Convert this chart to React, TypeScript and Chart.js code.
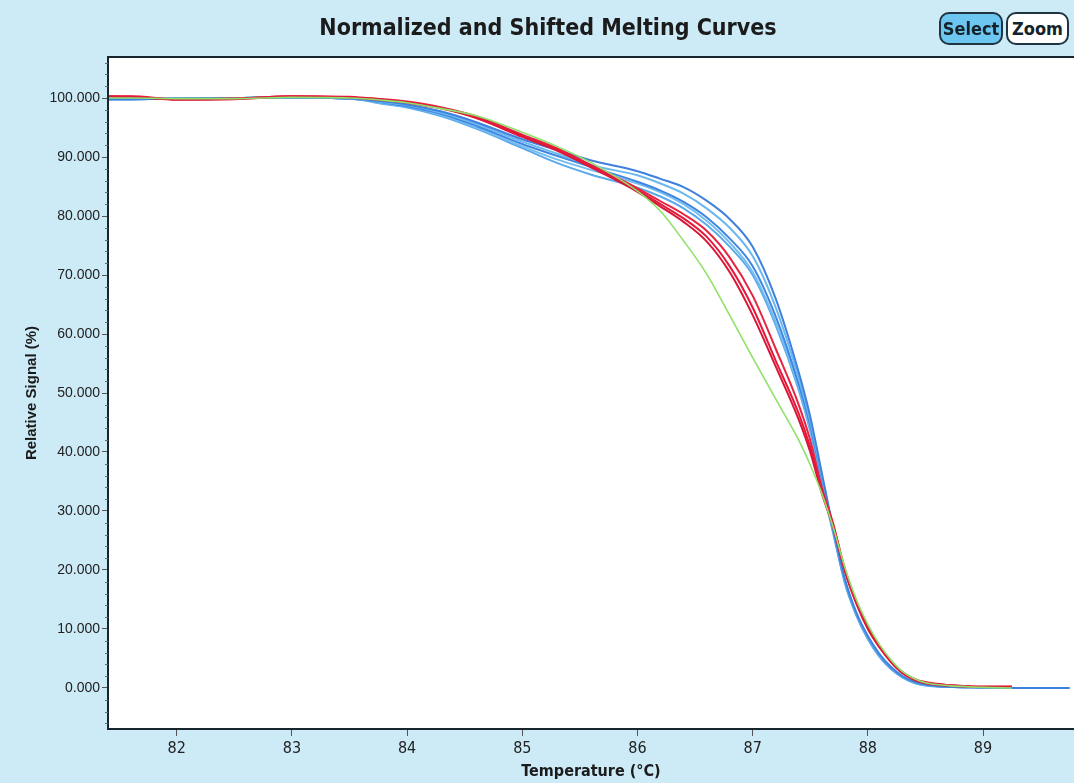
import React, { useEffect, useRef } from "react";
import { Chart, registerables } from "chart.js";

Chart.register(...registerables);

const NARROW = '"Liberation Sans Narrow", "DejaVu Sans Condensed", "Arial Narrow", sans-serif';
const SANS = '"Liberation Sans", Arial, sans-serif';

const chartTitle = "Normalized and Shifted Melting Curves";
const xTitle = "Temperature (°C)";
const yTitle = "Relative Signal (%)";

const temps = [81.4, 81.6, 82.0, 82.5, 83.0, 83.5, 83.8, 84.0, 84.3, 84.6, 85.0, 85.3, 85.6, 86.0, 86.2, 86.4, 86.6, 86.8, 87.0, 87.2, 87.4, 87.5, 87.6, 87.7, 87.8, 87.9, 88.0, 88.1, 88.2, 88.3, 88.4, 88.5, 88.7, 89.0, 89.25, 89.5, 89.75];

const xTicks = [82, 83, 84, 85, 86, 87, 88, 89];
const yTicks = [0, 10, 20, 30, 40, 50, 60, 70, 80, 90, 100];

const green1 = [100.0, 100.0, 99.9, 99.9, 100.1, 100.0, 99.6, 99.2, 98.2, 97.0, 94.2, 91.8, 89.0, 84.2, 80.8, 75.8, 70.2, 63.2, 56.0, 49.0, 42.0, 37.8, 33.0, 27.2, 20.5, 15.0, 10.8, 7.4, 4.8, 2.8, 1.6, 0.9, 0.4, 0.1, 0.0, null, null];

const red1 = [100.3, 100.2, 99.8, 99.9, 100.3, 100.2, 99.7, 99.3, 98.3, 96.7, 93.6, 91.3, 88.4, 84.4, 82.0, 79.6, 76.5, 71.5, 64.5, 55.5, 46.5, 40.8, 33.5, 27.5, 20.0, 14.5, 10.2, 7.0, 4.5, 2.6, 1.5, 0.9, 0.5, 0.2, 0.2, null, null];
const red2 = [100.3, 100.3, 99.8, 99.9, 100.3, 100.1, 99.8, 99.4, 98.4, 96.9, 93.8, 91.5, 88.6, 84.7, 82.5, 80.3, 77.5, 73.0, 66.5, 57.5, 48.0, 42.0, 34.0, 27.8, 20.2, 14.7, 10.4, 7.2, 4.6, 2.7, 1.6, 1.0, 0.5, 0.2, 0.2, null, null];
const red3 = [100.2, 100.2, 99.7, 99.8, 100.2, 100.1, 99.6, 99.2, 98.2, 96.6, 93.4, 91.1, 88.2, 84.1, 81.6, 79.0, 75.7, 70.5, 63.2, 54.5, 45.5, 40.0, 33.0, 27.2, 19.8, 14.3, 10.0, 6.9, 4.4, 2.5, 1.4, 0.8, 0.4, 0.2, 0.2, null, null];

const blue1 = [99.8, 99.8, 99.9, 100.0, 100.1, 99.9, 99.4, 98.9, 97.7, 95.9, 93.0, 91.2, 89.4, 87.6, 86.3, 84.9, 82.6, 79.5, 74.8, 66.0, 53.5, 46.0, 36.5, 27.0, 18.5, 12.8, 8.8, 5.8, 3.6, 2.0, 1.1, 0.6, 0.2, 0.1, 0.0, 0.0, 0.0];
const blue2 = [99.8, 99.8, 99.9, 100.0, 100.1, 99.9, 99.3, 98.8, 97.5, 95.6, 92.6, 90.6, 88.6, 86.9, 85.5, 83.8, 81.3, 78.0, 73.2, 64.5, 52.5, 45.2, 36.0, 26.8, 18.3, 12.6, 8.6, 5.6, 3.5, 1.9, 1.0, 0.5, 0.2, 0.1, 0.0, 0.0, 0.0];
const blue3 = [99.8, 99.8, 99.9, 100.0, 100.1, 99.9, 99.2, 98.6, 97.3, 95.3, 92.2, 90.2, 88.3, 85.8, 84.3, 82.4, 79.8, 76.2, 71.5, 63.0, 51.5, 44.5, 35.5, 26.6, 18.2, 12.5, 8.5, 5.5, 3.4, 1.9, 1.0, 0.5, 0.2, 0.1, 0.0, 0.0, 0.0];
const blue4 = [99.8, 99.8, 99.9, 100.0, 100.1, 99.9, 99.1, 98.5, 97.1, 95.0, 91.8, 89.6, 87.8, 85.5, 84.0, 82.0, 79.2, 75.5, 70.5, 62.0, 51.0, 44.0, 35.0, 26.4, 18.0, 12.4, 8.4, 5.4, 3.3, 1.8, 0.9, 0.5, 0.2, 0.1, 0.0, 0.0, 0.0];
const blue5 = [99.8, 99.8, 99.9, 100.0, 100.1, 99.9, 99.0, 98.4, 96.9, 94.8, 91.5, 89.0, 87.0, 84.8, 83.3, 81.3, 78.5, 74.8, 70.0, 61.5, 50.5, 43.5, 34.5, 26.2, 17.8, 12.3, 8.3, 5.3, 3.2, 1.8, 0.9, 0.4, 0.2, 0.1, 0.0, 0.0, 0.0];

const W = 1074;
const H = 783;

export default function App() {
  const ref = useRef<HTMLCanvasElement>(null);

  useEffect(() => {
    const canvas = ref.current;
    if (!canvas) return;

    const pts = (vals: (number | null)[]) =>
      temps.map((t, i) => ({ x: t, y: vals[i] })).filter((p) => p.y !== null);

    const mk = (label: string, vals: (number | null)[], color: string, width: number) => ({
      label,
      data: pts(vals),
      borderColor: color,
      backgroundColor: color,
      borderWidth: width,
      pointRadius: 0,
      fill: false,
      cubicInterpolationMode: "monotone" as const,
    });

    const framePlugin = {
      id: "frame",
      beforeDraw(chart: any) {
        const { ctx, chartArea: a } = chart;
        ctx.save();
        ctx.fillStyle = "#cdeaf7";
        ctx.fillRect(0, 0, chart.width, chart.height);
        ctx.fillStyle = "#ffffff";
        ctx.fillRect(a.left, a.top, a.right - a.left, a.bottom - a.top);
        ctx.restore();
      },
      afterDraw(chart: any) {
        const { ctx, chartArea: a } = chart;
        const ys = chart.scales.y;
        ctx.save();
        ctx.strokeStyle = "#18252c";
        ctx.lineWidth = 2;
        ctx.beginPath();
        ctx.moveTo(a.right, a.top);
        ctx.lineTo(a.left, a.top);
        ctx.lineTo(a.left, a.bottom);
        ctx.lineTo(a.right, a.bottom);
        ctx.stroke();
        // minor ticks on y axis
        ctx.strokeStyle = "#666";
        ctx.lineWidth = 1;
        ctx.beginPath();
        for (let v = -6; v <= 106; v += 2) {
          if (v % 10 === 0) continue;
          const py = Math.round(ys.getPixelForValue(v)) + 0.5;
          ctx.moveTo(a.left - 3, py);
          ctx.lineTo(a.left, py);
        }
        ctx.stroke();
        // title
        ctx.fillStyle = "#1b1b1b";
        ctx.font = `bold 23px ${NARROW}`;
        ctx.textAlign = "center";
        ctx.textBaseline = "middle";
        ctx.fillText(chartTitle, 548, 29);
        ctx.restore();
      },
    };

    const chart = new Chart(canvas, {
      type: "line",
      data: {
        datasets: [
          mk("green", green1, "#8ee26a", 1.6),
          mk("red 1", red1, "#e3193c", 2),
          mk("red 2", red2, "#e8243f", 2),
          mk("red 3", red3, "#d91636", 2),
          mk("blue 1", blue1, "#3e82de", 2),
          mk("blue 2", blue2, "#6ab8ef", 2),
          mk("blue 3", blue3, "#3f86e0", 2),
          mk("blue 4", blue4, "#73bdf0", 2),
          mk("blue 5", blue5, "#5aa9ea", 2),
        ],
      },
      options: {
        animation: false,
        responsive: false,
        devicePixelRatio: 1,
        layout: { padding: { top: 57, left: 0, right: 0, bottom: 0 } },
        plugins: {
          legend: { display: false },
          tooltip: { enabled: false },
          title: { display: false },
        },
        scales: {
          x: {
            type: "linear",
            min: 81.403,
            max: 89.79,
            afterBuildTicks: (s: any) => {
              s.ticks = xTicks.map((v) => ({ value: v }));
            },
            afterFit: (s: any) => {
              s.height = 54;
            },
            grid: { drawOnChartArea: false, drawTicks: true, tickLength: 7, tickColor: "#555" },
            border: { display: false },
            ticks: {
              color: "#222",
              font: { family: NARROW, size: 16 },
              padding: 3,
              maxRotation: 0,
              autoSkip: false,
              callback: (v: any) => String(v),
            },
            title: {
              display: true,
              text: xTitle,
              color: "#1b1b1b",
              font: { family: NARROW, size: 16, weight: "bold", lineHeight: 1.2 },
              padding: { top: 0, bottom: 2 },
            },
          },
          y: {
            type: "linear",
            min: -6.95,
            max: 106.95,
            afterBuildTicks: (s: any) => {
              s.ticks = yTicks.map((v) => ({ value: v }));
            },
            afterFit: (s: any) => {
              s.width = 108;
            },
            grid: { drawOnChartArea: false, drawTicks: true, tickLength: 6, tickColor: "#555" },
            border: { display: false },
            ticks: {
              color: "#222",
              font: { family: SANS, size: 14 },
              padding: 2,
              autoSkip: false,
              callback: (v: any) => Number(v).toFixed(3),
            },
            title: {
              display: true,
              text: yTitle,
              color: "#1b1b1b",
              font: { family: SANS, size: 15, weight: "bold", lineHeight: 1.2 },
              padding: { top: 23, bottom: 0 },
            },
          },
        },
      },
      plugins: [framePlugin],
    });

    return () => chart.destroy();
  }, []);

  const btn = (bg: string): React.CSSProperties => ({
    position: "absolute",
    top: 12,
    height: 33,
    boxSizing: "border-box",
    border: "2px solid #1f3440",
    borderRadius: 10,
    background: bg,
    fontFamily: NARROW,
    fontWeight: "bold",
    fontSize: 18,
    lineHeight: "29px",
    textAlign: "center",
    color: "#14222b",
  });

  return (
    <div style={{ position: "absolute", left: 0, top: 0, width: W, height: H, background: "#cdeaf7", overflow: "hidden" }}>
      <canvas ref={ref} width={W} height={H} style={{ display: "block", width: W, height: H }} />
      <div style={{ ...btn("#6cc6f0"), left: 939, width: 64 }}>Select</div>
      <div style={{ ...btn("#ffffff"), left: 1006, width: 63 }}>Zoom</div>
    </div>
  );
}
